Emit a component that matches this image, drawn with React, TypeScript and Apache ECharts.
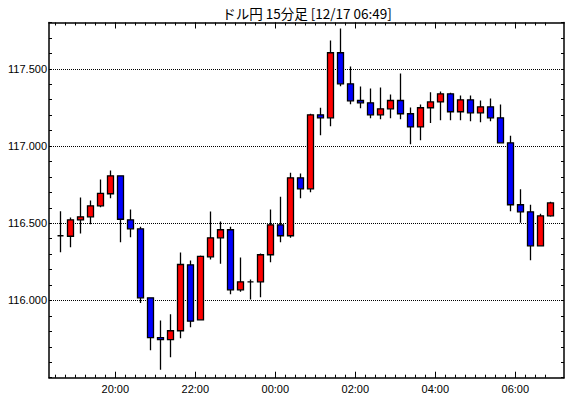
import React, { useEffect, useRef } from 'react';
import * as echarts from 'echarts';

const times = ['18:30','18:45','19:00','19:15','19:30','19:45','20:00','20:15','20:30','20:45','21:00','21:15','21:30','21:45','22:00','22:15','22:30','22:45','23:00','23:15','23:30','23:45','00:00','00:15','00:30','00:45','01:00','01:15','01:30','01:45','02:00','02:15','02:30','02:45','03:00','03:15','03:30','03:45','04:00','04:15','04:30','04:45','05:00','05:15','05:30','05:45','06:00','06:15','06:30','06:45'];

const opens = [116.419,116.416,116.522,116.542,116.613,116.691,116.807,116.522,116.464,116.017,115.759,115.746,115.804,116.231,115.875,116.283,116.406,116.458,116.069,116.121,116.121,116.296,116.490,116.419,116.794,116.723,117.202,117.183,117.604,117.403,117.295,117.280,117.202,117.241,117.295,117.209,117.124,117.248,117.286,117.338,117.222,117.299,117.215,117.254,117.183,117.021,116.620,116.574,116.354,116.548];
const closes = [116.419,116.522,116.542,116.613,116.693,116.807,116.526,116.464,116.017,115.759,115.746,115.804,116.233,115.866,116.285,116.406,116.458,116.069,116.121,116.121,116.296,116.490,116.419,116.794,116.723,117.202,117.183,117.604,117.403,117.293,117.280,117.202,117.241,117.295,117.209,117.124,117.248,117.286,117.338,117.222,117.299,117.215,117.254,117.183,117.021,116.620,116.574,116.354,116.548,116.632];
const lows = [116.313,116.345,116.434,116.494,116.604,116.662,116.377,116.410,115.983,115.678,115.551,115.633,115.756,115.827,115.870,116.265,116.238,116.041,116.056,116.006,116.021,116.248,116.377,116.406,116.662,116.701,117.070,117.128,117.387,117.271,117.245,117.180,117.174,117.180,117.174,117.012,117.038,117.150,117.167,117.167,117.167,117.161,117.154,117.161,117.018,116.578,116.503,116.261,116.350,116.542];
const highs = [116.578,116.537,116.667,116.647,116.783,116.842,116.810,116.589,116.477,116.020,115.871,115.911,116.311,116.259,116.291,116.576,116.511,116.477,116.278,116.136,116.304,116.589,116.671,116.827,116.822,117.209,117.248,117.683,117.761,117.515,117.385,117.372,117.379,117.334,117.470,117.249,117.269,117.349,117.353,117.345,117.327,117.327,117.295,117.308,117.269,117.066,116.720,116.620,116.561,116.639];

const xTickLabels = ['20:00', '22:00', '00:00', '02:00', '04:00', '06:00'];
const yTickValues = [116.0, 116.5, 117.0, 117.5];
const yTickLabels = ['116.000', '116.500', '117.000', '117.500'];
const yMin = 115.5;
const yMax = 117.8;
const title = 'ドル円 15分足 [12/17 06:49]';

const XMIN = -1.13;
const XMAX = 50.37;

const minorTicks = times.map((_, i) => i - 0.5);
const majorTicks = xTickLabels.map((t) => times.indexOf(t) - 0.5);

const font = 'Liberation Sans';

function xAxisBase(position: string, extra: any) {
  return {
    type: 'value',
    position,
    min: XMIN,
    max: XMAX,
    axisLine: { show: false, onZero: false },
    axisTick: { show: false },
    axisLabel: { show: false },
    splitLine: { show: false },
    ...extra,
  };
}

function yAxisBase(position: string, extra: any) {
  return {
    type: 'value',
    position,
    min: yMin,
    max: yMax,
    axisLine: { show: false, onZero: false },
    axisTick: { show: false },
    axisLabel: { show: false },
    splitLine: { show: false },
    ...extra,
  };
}

const frameLine = { show: true, onZero: false, lineStyle: { color: '#000', width: 1.5 } };

export default function App() {
  const ref = useRef<HTMLDivElement>(null);
  useEffect(() => {
    const chart = echarts.init(ref.current!, null, { renderer: 'svg' });
    const data = times.map((_, i) => [i, opens[i], closes[i], lows[i], highs[i]]);
    chart.setOption({
      animation: false,
      backgroundColor: '#fff',
      grid: { left: 49, top: 22.5, right: 6, bottom: 20.3, containLabel: false },
      graphic: [
        {
          type: 'text',
          x: 307,
          y: 12.5,
          style: {
            text: title,
            textAlign: 'center',
            textVerticalAlign: 'middle',
            font: '13.5px "Noto Sans CJK JP"',
            fill: '#000',
          },
        },
      ],
      xAxis: [
        xAxisBase('bottom', {
          axisLine: frameLine,
          axisTick: { show: true, inside: true, length: 3, customValues: minorTicks, lineStyle: { color: '#000', width: 1 } },
        }),
        xAxisBase('bottom', {
          axisTick: { show: true, inside: true, length: 6, customValues: majorTicks, lineStyle: { color: '#000', width: 1 } },
          axisLabel: {
            show: true,
            customValues: majorTicks,
            margin: 6,
            color: '#000',
            fontFamily: font,
            fontSize: 11,
            formatter: (v: number) => {
              const i = majorTicks.findIndex((m) => Math.abs(m - v) < 1e-6);
              return i >= 0 ? xTickLabels[i] : '';
            },
          },
        }),
        xAxisBase('top', {
          axisLine: frameLine,
          axisTick: { show: true, inside: true, length: 3, customValues: minorTicks, lineStyle: { color: '#000', width: 1 } },
        }),
        xAxisBase('top', {
          axisTick: { show: true, inside: true, length: 6, customValues: majorTicks, lineStyle: { color: '#000', width: 1 } },
        }),
      ],
      yAxis: [
        yAxisBase('left', {
          interval: 0.1,
          axisLine: frameLine,
          axisTick: { show: true, inside: true, length: 3, lineStyle: { color: '#000', width: 1 } },
        }),
        yAxisBase('left', {
          interval: 0.5,
          splitLine: { show: true, showMinLine: false, showMaxLine: false, lineStyle: { color: '#000', width: 1, type: [1, 1] } },
          axisLabel: {
            show: true,
            customValues: yTickValues,
            margin: 2,
            color: '#000',
            fontFamily: font,
            fontSize: 11,
            formatter: (v: number) => {
              const i = yTickValues.findIndex((m) => Math.abs(m - v) < 1e-6);
              return i >= 0 ? yTickLabels[i] : '';
            },
          },
        }),
        yAxisBase('right', {
          interval: 0.1,
          axisLine: frameLine,
          axisTick: { show: true, inside: true, length: 3, lineStyle: { color: '#000', width: 1 } },
        }),
      ],
      series: [
        {
          type: 'candlestick',
          xAxisIndex: 0,
          yAxisIndex: 0,
          data,
          encode: { x: 0, y: [1, 2, 3, 4] },
          barWidth: 6,
          silent: true,
          itemStyle: {
            color: '#ff0000',
            color0: '#0000ff',
            borderColor: '#000',
            borderColor0: '#000',
            borderColorDoji: '#000',
            borderWidth: 1.3,
          },
        },
      ],
    });
    return () => chart.dispose();
  }, []);
  return (
    <div
      ref={ref}
      style={{ position: 'fixed', left: 0, top: 0, width: 570, height: 398, background: '#fff' }}
    />
  );
}
